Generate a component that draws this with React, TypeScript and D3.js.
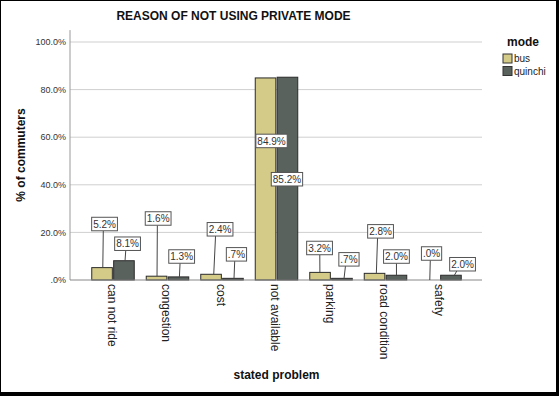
import React from 'react';
import * as d3 from 'd3';

const categories = ['can not ride', 'congestion', 'cost', 'not available', 'parking', 'road condition', 'safety'];
const seriesNames = ['bus', 'quinchi'];
const busValues = [5.2, 1.6, 2.4, 84.9, 3.2, 2.8, 0.0];
const quinchiValues = [8.1, 1.3, 0.7, 85.2, 0.7, 2.0, 2.0];
const yTicks = [0, 20, 40, 60, 80, 100];

// label placement, like the hand-moved SPSS labels: [dx from bar centre, lift above bar top]
const busLabelShift = [[2.5, 43.6], [1.6, 57.7], [9, 45], [6, -63], [-0.5, 24.4], [6, 42], [2.5, 26.5]];
const quinchiLabelShift = [[3.6, 17], [3.2, 20.4], [3.5, 24], [-0.5, -102], [7, 19], [0, 18.7], [11.6, 11]];

const W = 559;
const H = 396;
const colors = { bus: '#d4cb88', quinchi: '#5a625e' };
const font = '"Liberation Sans", Arial, sans-serif';

const fmt = (v: number) => v.toFixed(1).replace(/^0/, '') + '%';
const charW: Record<string, number> = { '.': 0.278, '%': 0.889 };
const textWidth = (s: string, size: number) =>
  s.split('').reduce((a, c) => a + (charW[c] ?? 0.556), 0) * size;

const App = () => {
  const x0 = d3.scaleBand<string>().domain(categories).range([85.75, 467.25]);
  const x1 = d3.scaleBand<string>().domain(seriesNames).range([6, 48.5]).paddingInner(0.06);
  const y = d3.scaleLinear().domain([0, 100]).range([280, 42]);

  const series = [
    { name: 'bus', values: busValues, shift: busLabelShift },
    { name: 'quinchi', values: quinchiValues, shift: quinchiLabelShift },
  ];

  return (
    <svg width={W} height={H} style={{ position: 'absolute', left: 0, top: 0, fontFamily: font }}>
      <rect x={0} y={0} width={W} height={H} fill="#000" />
      <rect x={1} y={1} width={555} height={391} fill="#fff" />

      <text x={233.5} y={20} textAnchor="middle" fontSize={12} fontWeight="bold" fill="#111">
        REASON OF NOT USING PRIVATE MODE
      </text>

      {yTicks.filter(t => t > 0).map(t => (
        <line key={t} x1={70} x2={482} y1={y(t)} y2={y(t)} stroke="#cfcfcf" strokeWidth={1} />
      ))}
      {yTicks.map(t => (
        <text key={t} x={66} y={y(t)} dy="0.35em" textAnchor="end" fontSize={9} fill="#333">
          {fmt(t)}
        </text>
      ))}
      <line x1={70} x2={70} y1={y(105)} y2={280} stroke="#999" />

      {series.map(s =>
        categories.map((c, i) => {
          const bx = (x0(c) ?? 0) + (x1(s.name) ?? 0);
          const bw = x1.bandwidth();
          return (
            <rect key={s.name + c} x={bx} y={y(s.values[i])} width={bw}
              height={Math.max(0, 280 - y(s.values[i]))}
              fill={colors[s.name as 'bus' | 'quinchi']} stroke="#2a2a2a" strokeWidth={1} />
          );
        })
      )}
      <line x1={70} x2={482} y1={280} y2={280} stroke="#888" />

      {series.map(s =>
        categories.map((c, i) => {
          const cx = (x0(c) ?? 0) + (x1(s.name) ?? 0) + x1.bandwidth() / 2;
          const top = y(s.values[i]);
          const [dx, lift] = s.shift[i];
          const lx = cx + dx;
          const ly = top - lift;
          const label = fmt(s.values[i]);
          const w = textWidth(label, 10) + 3;
          const h = 13.5;
          return (
            <g key={'l' + s.name + c}>
              {lift > 0 && (
                <line x1={lx - dx * 0.5} y1={ly + h / 2} x2={cx + dx * 0.3} y2={top}
                  stroke="#444" strokeWidth={1} />
              )}
              <rect x={lx - w / 2} y={ly - h / 2} width={w} height={h}
                fill="#fff" stroke="#555" strokeWidth={1} />
              <text x={lx} y={ly} dy="0.36em" textAnchor="middle" fontSize={10} fill="#333">
                {label}
              </text>
            </g>
          );
        })
      )}

      {categories.map(c => {
        const cx = (x0(c) ?? 0) + x0.bandwidth() / 2;
        return (
          <text key={c} transform={`translate(${cx - 1},284) rotate(90)`} dy="0.35em"
            fontSize={12} fill="#222">
            {c}
          </text>
        );
      })}

      <text x={276.5} y={379} textAnchor="middle" fontSize={12} fontWeight="bold" fill="#111">
        stated problem
      </text>
      <text transform="translate(25,155) rotate(-90)" textAnchor="middle" fontSize={12}
        fontWeight="bold" fill="#111">
        % of commuters
      </text>

      <text x={523} y={46} textAnchor="middle" fontSize={12} fontWeight="bold" fill="#111">mode</text>
      {seriesNames.map((n, i) => (
        <g key={n} transform={`translate(503,${54 + i * 12.5})`}>
          <rect x={0} y={0} width={9} height={9} fill={colors[n as 'bus' | 'quinchi']} stroke="#333" />
          <text x={11} y={4.5} dy="0.35em" fontSize={10} fill="#222">{n}</text>
        </g>
      ))}
    </svg>
  );
};

export default App;
